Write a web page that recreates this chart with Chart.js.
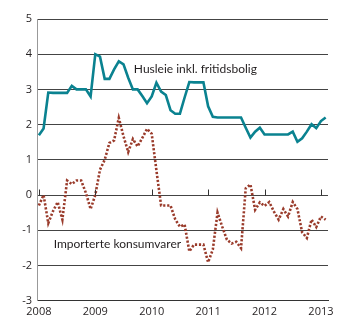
<!DOCTYPE html>
<html>
<head>
<meta charset="utf-8">
<script src="https://cdn.jsdelivr.net/npm/chart.js@4"></script>
<style>
  html, body { margin: 0; padding: 0; background: #fff; }
  #wrap { width: 350px; height: 324px; }
</style>
</head>
<body>
<div id="wrap"><canvas id="graphic"></canvas></div>
<script>
// monthly, Jan 2008 .. Feb 2013
const years = [2008, 2009, 2010, 2011, 2012, 2013];

const husleie = [
  1.70, 1.89, 2.91, 2.90, 2.90, 2.90, 2.90, 3.10, 3.00, 3.00, 3.00, 2.80,
  4.00, 3.93, 3.30, 3.30, 3.57, 3.80, 3.71, 3.33, 3.00, 3.00, 2.81, 2.61,
  2.80, 3.19, 2.94, 2.84, 2.41, 2.31, 2.31, 2.77, 3.21, 3.20, 3.20, 3.20,
  2.52, 2.22, 2.20, 2.20, 2.20, 2.20, 2.20, 2.20, 1.91, 1.63, 1.80, 1.91,
  1.72, 1.72, 1.72, 1.72, 1.72, 1.72, 1.80, 1.51, 1.61, 1.80, 2.01, 1.90,
  2.10, 2.20
];

const importerte = [
  -0.30, 0.00, -0.80, -0.46, -0.20, -0.70, 0.41, 0.31, 0.41, 0.41, 0.06, -0.40,
  0.00, 0.72, 1.00, 1.48, 1.55, 2.19, 1.67, 1.22, 1.59, 1.38, 1.62, 1.88,
  1.74, 0.70, -0.30, -0.30, -0.30, -0.69, -0.90, -0.84, -1.60, -1.41, -1.41, -1.41,
  -1.91, -1.55, -0.50, -0.90, -1.27, -1.38, -1.33, -1.51, 0.19, 0.30, -0.42, -0.21,
  -0.31, -0.20, -0.47, -0.70, -0.40, -0.61, -0.20, -0.40, -1.06, -1.22, -0.70, -0.91,
  -0.61, -0.70
];

const yTicks = [-3, -2, -1, 0, 1, 2, 3, 4, 5];

const toXY = arr => arr.map((v, i) => ({ x: i, y: v }));

const FONT = "'Open Sans', 'DejaVu Sans', sans-serif";
const NOTE_FONT = "Lato, 'Open Sans', sans-serif";
const TEXT = '#231f20';

// labels placed in data coordinates (month index, value)
const notes = [
  { text: 'Husleie inkl. fritidsbolig', x: 20.2, y: 3.58 },
  { text: 'Importerte konsumvarer', x: 3.15, y: -1.40 }
];

const extras = {
  id: 'extras',
  afterDatasetsDraw(chart) {
    const { ctx, scales: { x, y } } = chart;
    ctx.save();
    // small year ticks on the zero line
    ctx.strokeStyle = '#333';
    ctx.lineWidth = 1;
    const y0 = Math.round(y.getPixelForValue(0)) + 0.5;
    years.forEach((yr, i) => {
      const px = Math.round(x.getPixelForValue(i * 12)) + 0.5;
      ctx.beginPath();
      ctx.moveTo(px, y0);
      ctx.lineTo(px, y0 - 6);
      ctx.stroke();
    });
    ctx.fillStyle = TEXT;
    ctx.font = '12px ' + NOTE_FONT;
    ctx.textBaseline = 'middle';
    ctx.textAlign = 'left';
    notes.forEach(n => {
      ctx.fillText(n.text, x.getPixelForValue(n.x), y.getPixelForValue(n.y));
    });
    ctx.restore();
  }
};

const config = {
  type: 'line',
  data: {
    datasets: [{
      label: 'Husleie inkl. fritidsbolig',
      data: toXY(husleie),
      borderColor: '#0a8290',
      borderWidth: 2.6,
      pointRadius: 0,
      tension: 0
    },
    {
      label: 'Importerte konsumvarer',
      data: toXY(importerte),
      borderColor: '#9a3b2b',
      borderWidth: 2.6,
      borderDash: [2.2, 1.8],
      pointRadius: 0,
      tension: 0
    }]
  },
  options: {
    responsive: false,
    animation: false,
    events: [],
    layout: { padding: { left: 0, right: 22, top: 19, bottom: 0 } },
    plugins: { legend: { display: false }, tooltip: { enabled: false } },
    scales: {
      x: {
        type: 'linear',
        min: -0.4,
        max: 61.5,
        afterBuildTicks: s => { s.ticks = years.map((yr, i) => ({ value: i * 12 })); },
        afterFit: s => { s.height = 23.4; },
        grid: { display: false, drawTicks: false },
        border: { display: true, color: '#333', width: 1 },
        ticks: {
          padding: 5,
          color: TEXT,
          font: { family: FONT, size: 11 },
          maxRotation: 0,
          autoSkip: false,
          callback: v => String(years[Math.round(v / 12)])
        }
      },
      y: {
        min: -3,
        max: 5,
        afterBuildTicks: s => { s.ticks = yTicks.map(v => ({ value: v })); },
        afterFit: s => { s.width = 37; },
        grid: { color: '#444', lineWidth: 1, drawTicks: false },
        border: { display: true, color: '#999', width: 1 },
        ticks: {
          padding: 5,
          color: TEXT,
          font: { family: FONT, size: 11 }
        }
      }
    }
  },
  plugins: [extras]
};

const canvas = document.getElementById('graphic');
canvas.width = 350;
canvas.height = 324;
const myGraphic = new Chart(canvas, config);
</script>
</body>
</html>
